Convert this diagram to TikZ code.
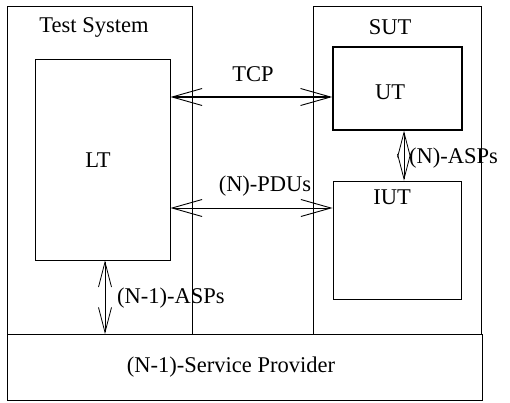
\documentclass[tikz,border=0pt]{standalone}
\usepackage{fontspec}
\setmainfont{Liberation Serif}
\usetikzlibrary{arrows.meta}
\begin{document}
\begin{tikzpicture}[x=1pt,y=-1pt,
  box/.style={draw,line width=0.9pt},
  lbl/.style={font=\fontsize{22.5}{26}\selectfont,inner sep=0pt},
  barb/.style={{Straight Barb[length=30pt,width=17pt,line width=0.9pt]}-{Straight Barb[length=30pt,width=17pt,line width=0.9pt]}},
  vbarb/.style={{Straight Barb[length=25pt,width=13pt,line width=0.8pt]}-{Straight Barb[length=25pt,width=13pt,line width=0.8pt]}}]
\useasboundingbox (0,0) rectangle (510,402);
% outer boxes
\draw[box] (7,6) rectangle (192,334);
\draw[box] (313,6) rectangle (481,334);
\draw[box] (7,334) rectangle (482,400);
\node[lbl] (ts) at (94,27) {Test System};
\node[lbl] (sut) at (390,27) {SUT};
\node[lbl] (sp) at (231,367) {(N-1)-Service Provider};
% inner boxes
\node[box,minimum width=135pt,minimum height=201pt,inner sep=0pt] (lt) at (102.5,159.5) {};
\node[lbl] at (98,160) {LT};
\node[draw,line width=1.6pt,minimum width=129pt,minimum height=83pt,inner sep=0pt] (ut) at (397.5,88.5) {};
\node[lbl] at (390,92) {UT};
\node[box,minimum width=128pt,minimum height=118pt,inner sep=0pt] (iut) at (397,240) {};
\node[lbl] at (392,197) {IUT};
% connectors
\draw[barb,line width=1.6pt] (lt.east |- 0,97) -- (ut.west |- 0,97);
\node[lbl] (tcp) at (253,74) {TCP};
\draw[barb,line width=0.8pt] (lt.east |- 0,208) -- (iut.west |- 0,208);
\node[lbl] (pdu) at (265,186) {(N)-PDUs};
\coordinate (spt) at (105,334);
\draw[vbarb] (lt.south -| spt) -- (spt);
\node[lbl,anchor=west] (asp1) at (117,298) {(N-1)-ASPs};
\draw[vbarb] (ut.south -| 404,0) -- (iut.north -| 404,0);
\node[lbl,anchor=west] (asp2) at (409,158) {(N)-ASPs};
\end{tikzpicture}
\end{document}
